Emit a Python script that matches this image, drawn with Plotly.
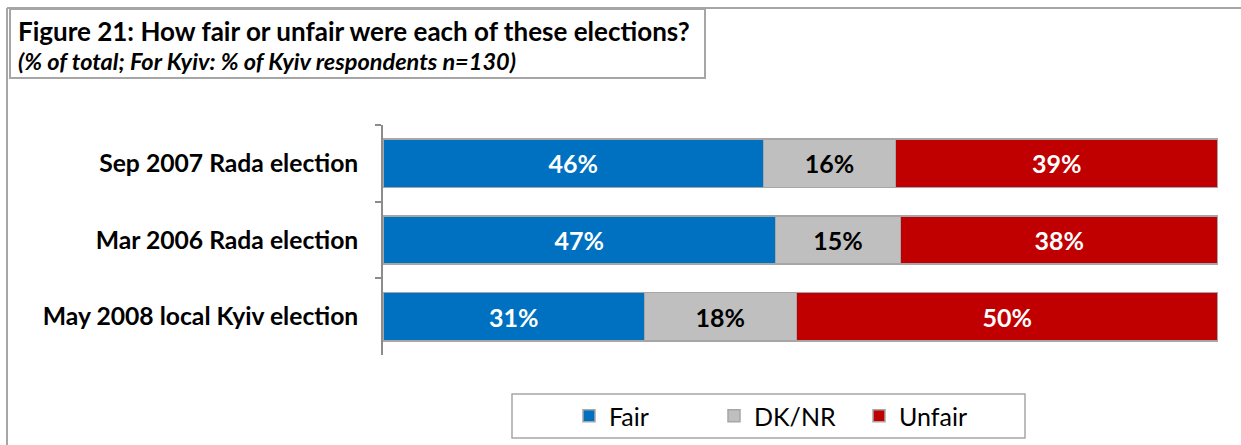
import plotly.graph_objects as go

# Survey results: share of respondents rating each election
elections = ["Sep 2007 Rada election", "Mar 2006 Rada election", "May 2008 local Kyiv election"]
fair = [46, 47, 31]
dk_nr = [16, 15, 18]
unfair = [39, 38, 50]

series_names = ["Fair", "DK/NR", "Unfair"]
series_values = [fair, dk_nr, unfair]
series_colors = ["#0070C0", "#BFBFBF", "#C00000"]
label_colors = ["white", "black", "white"]

W, H = 1241, 445
FONT = "Lato, 'Open Sans', Arial, sans-serif"

fig = go.Figure()
for name, vals, col, lc in zip(series_names, series_values, series_colors, label_colors):
    fig.add_trace(go.Bar(
        y=elections, x=vals, name=name, orientation="h",
        marker=dict(color=col, line=dict(color="#A6A6A6", width=1.5)),
        text=[f"{v}%" for v in vals], textposition="inside", insidetextanchor="middle",
        textfont=dict(family=FONT, size=25, color=lc, weight="bold"),
        constraintext="none", cliponaxis=False,
    ))

def px(x):
    return x / W

def py(y):
    return 1 - y / H

fig.update_layout(
    width=W, height=H, barmode="stack", barnorm="percent", bargap=0.37,
    margin=dict(l=0, r=0, t=0, b=0),
    paper_bgcolor="white", plot_bgcolor="white",
    font=dict(family=FONT, color="black"),
    xaxis=dict(domain=[px(383), px(1218)], range=[0, 100], visible=False, fixedrange=True),
    yaxis=dict(
        domain=[py(355), py(125)], type="category", categoryorder="array",
        categoryarray=elections, autorange="reversed",
        showline=True, linecolor="#8C8C8C", linewidth=1.5,
        ticks="outside", ticklen=6, tickcolor="#8C8C8C", tickwidth=1.5,
        tickson="boundaries", showgrid=False, ticklabelstandoff=18,
        tickfont=dict(family=FONT, size=24.7, color="black", weight="bold"),
    ),
    showlegend=True,
    legend=dict(
        orientation="h", x=px(569), y=py(416), xanchor="left", yanchor="middle",
        font=dict(family=FONT, size=25, color="black"),
        entrywidth=100, itemwidth=30, traceorder="normal",
        bgcolor="rgba(0,0,0,0)", borderwidth=0,
    ),
    shapes=[
        # outer frame (top and left edges)
        dict(type="line", xref="paper", yref="paper", x0=px(7), x1=1, y0=py(8), y1=py(8),
             line=dict(color="#A6A6A6", width=2)),
        dict(type="line", xref="paper", yref="paper", x0=px(7), x1=px(7), y0=py(8), y1=0,
             line=dict(color="#A6A6A6", width=2)),
        # title box
        dict(type="rect", xref="paper", yref="paper", x0=px(10), x1=px(705), y0=py(78), y1=py(9),
             line=dict(color="#A6A6A6", width=2), fillcolor="white", layer="below"),
        # legend box
        dict(type="rect", xref="paper", yref="paper", x0=px(512), x1=px(1025), y0=py(438), y1=py(394),
             line=dict(color="#A6A6A6", width=1.5), fillcolor="rgba(0,0,0,0)"),
    ],
    annotations=[
        dict(text="<b>Figure 21: How fair or unfair were each of these elections?</b>",
             xref="paper", yref="paper", x=px(16), y=py(31), xanchor="left", yanchor="middle",
             showarrow=False, font=dict(family=FONT, size=26, color="black")),
        dict(text="<b><i>(% of total; For Kyiv: % of Kyiv respondents n=130)</i></b>",
             xref="paper", yref="paper", x=px(16), y=py(61), xanchor="left", yanchor="middle",
             showarrow=False, font=dict(family=FONT, size=23.5, color="black")),
    ],
)

fig.write_html("out.html")
